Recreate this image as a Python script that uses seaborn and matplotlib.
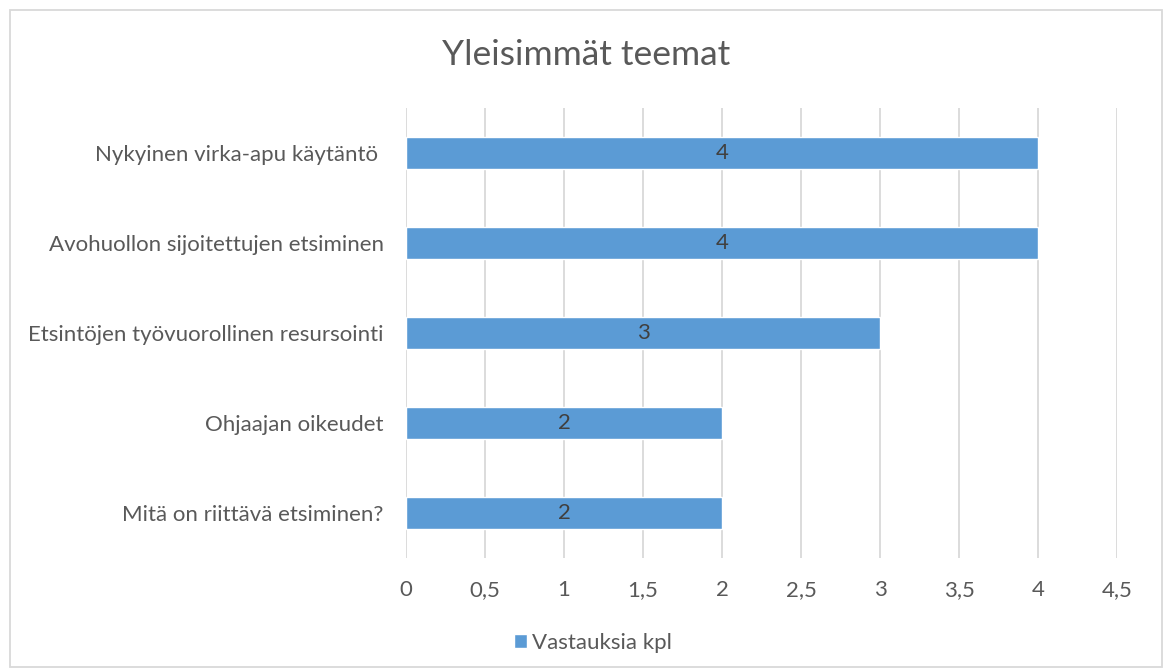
import matplotlib
matplotlib.use("Agg")
import matplotlib.pyplot as plt
import seaborn as sns
import pandas as pd
from matplotlib.patches import Rectangle, Patch

categories = ["Nykyinen virka-apu käytäntö ", "Avohuollon sijoitettujen etsiminen",
              "Etsintöjen työvuorollinen resursointi", "Ohjaajan oikeudet",
              "Mitä on riittävä etsiminen?"]
values = [4, 4, 3, 2, 2]
xticks = [0, 0.5, 1, 1.5, 2, 2.5, 3, 3.5, 4, 4.5]
xtick_labels = ["0", "0,5", "1", "1,5", "2", "2,5", "3", "3,5", "4", "4,5"]
series_name = "Vastauksia kpl"
title = "Yleisimmät teemat"

sns.set_style("white")
plt.rcParams['font.family'] = ['Lato', 'DejaVu Sans']
txt = "#595959"
fs = 16

df = pd.DataFrame({"cat": categories, "val": values, "series": series_name})

fig = plt.figure(figsize=(11.65, 6.72), dpi=100)
ax = fig.add_axes([406/1165, 1-558/672, (1117-406)/1165, (558-108)/672])
sns.barplot(data=df, x="val", y="cat", hue="series", orient="h", ax=ax,
            palette=["#5b9bd5"], width=0.345, saturation=1, legend=False)

ax.set_xlim(0, 4.5)
ax.set_ylim(4.5, -0.5)
ax.set_xticks(xticks)
ax.set_xticklabels(xtick_labels, fontsize=fs, color=txt)
ax.tick_params(axis="y", labelsize=fs, labelcolor=txt, pad=16, length=0)
ax.tick_params(axis="x", pad=16, length=0)
ax.set_xlabel("")
ax.set_ylabel("")
ax.grid(axis="x", color="#d9d9d9", linewidth=1.3)
ax.set_axisbelow(True)
for s in ax.spines.values():
    s.set_visible(False)

for c in ax.containers:
    ax.bar_label(c, labels=[str(v) for v in values], label_type="center",
                 fontsize=fs, color="#404040")

fig.text(0.503, 1-55/672, title, ha="center", va="center", fontsize=25.5, color=txt)

fig.legend(handles=[Patch(facecolor="#5b9bd5", label=series_name)],
           loc="center", bbox_to_anchor=(0.509, 1-643/672), frameon=False,
           fontsize=fs, labelcolor=txt, handlelength=0.6, handleheight=0.6,
           handletextpad=0.25)

fig.patches.append(Rectangle((10/1165, 5/672), 1152/1165, 1-15/672,
                             transform=fig.transFigure, fill=False,
                             edgecolor="#d9d9d9", linewidth=1.3))

fig.savefig("out.png", dpi=100, facecolor="white")
